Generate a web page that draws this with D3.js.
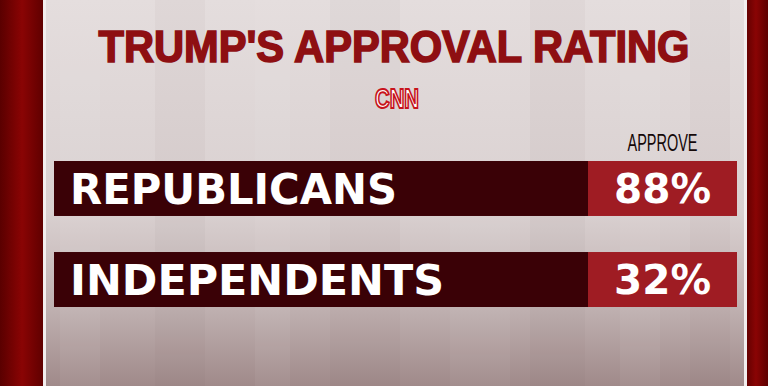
<!DOCTYPE html>
<html><head><meta charset="utf-8">
<script src="https://cdn.jsdelivr.net/npm/d3@7"></script>
<style>html,body{margin:0;padding:0;background:#6b0000;}svg{display:block;}</style>
</head><body>
<script>
const title = "TRUMP'S APPROVAL RATING";
const source = "CNN";
const columnLabel = "APPROVE";
const categories = ["REPUBLICANS", "INDEPENDENTS"];
const approve = [88, 32];

const W = 768, H = 386;
const svg = d3.select("body").append("svg").attr("width", W).attr("height", H);
const defs = svg.append("defs");

const og = defs.append("linearGradient").attr("id","outer").attr("x1",0).attr("x2",1).attr("y1",0).attr("y2",0);
og.append("stop").attr("offset","0%").attr("stop-color","#5a0000");
og.append("stop").attr("offset","50%").attr("stop-color","#8a0404");
og.append("stop").attr("offset","100%").attr("stop-color","#5e0000");
const pg = defs.append("linearGradient").attr("id","panel").attr("x1",0).attr("x2",0).attr("y1",0).attr("y2",1);
pg.append("stop").attr("offset","0%").attr("stop-color","#e4dddd");
pg.append("stop").attr("offset","55%").attr("stop-color","#d9d0d0");
pg.append("stop").attr("offset","80%").attr("stop-color","#bfb0b0");
pg.append("stop").attr("offset","100%").attr("stop-color","#a08a8a");

svg.append("rect").attr("x",0).attr("y",0).attr("width",44).attr("height",H).attr("fill","url(#outer)");
svg.append("rect").attr("x",744).attr("y",0).attr("width",24).attr("height",H).attr("fill","url(#outer)");
svg.append("rect").attr("x",43).attr("y",0).attr("width",704).attr("height",H).attr("fill","#f2eeee");
svg.append("rect").attr("x",46).attr("y",0).attr("width",698).attr("height",H).attr("fill","url(#panel)");

// subtle vertical stripes
const stripes = [[60,40,0.05],[155,50,-0.04],[255,35,0.05],[330,70,-0.03],[450,60,0.04],[530,55,-0.04],[620,40,0.05],[690,40,-0.03]];
svg.append("g").selectAll("rect").data(stripes).join("rect")
  .attr("x",d=>d[0]).attr("y",0).attr("width",d=>d[1]).attr("height",H)
  .attr("fill",d=>d[2]>0?"#ffffff":"#6a4a4a").attr("opacity",d=>Math.abs(d[2]));

// title
svg.append("text").attr("x",394).attr("y",62).attr("text-anchor","middle")
  .attr("font-family","'Liberation Sans Narrow','Liberation Sans',sans-serif").attr("font-weight","bold")
  .attr("font-size",44).attr("fill","#8e0f12").attr("stroke","#8e0f12").attr("stroke-width",1.6)
  .attr("textLength",591).attr("lengthAdjust","spacingAndGlyphs").text(title);

// CNN logo
svg.append("text").attr("x",397).attr("y",108).attr("text-anchor","middle")
  .attr("font-family","'Liberation Sans Narrow','Liberation Sans',sans-serif").attr("font-weight","bold")
  .attr("font-size",27).attr("fill","#ffffff").attr("stroke","#c8141c").attr("stroke-width",2)
  .attr("textLength",44).attr("lengthAdjust","spacingAndGlyphs").text(source);

// scales
const y = d3.scaleBand().domain(categories).range([161, 307]).paddingInner(0.396).paddingOuter(0);
const x = d3.scaleLinear().domain([0, 1]).range([54, 737]);
const split = 588;

const rows = svg.append("g").selectAll("g").data(categories.map((c,i)=>({c, v:approve[i]}))).join("g");
rows.append("rect").attr("x",x(0)).attr("y",d=>y(d.c)).attr("width",split-x(0)).attr("height",y.bandwidth())
  .attr("fill","#3a0106");
rows.append("rect").attr("x",split).attr("y",d=>y(d.c)).attr("width",x(1)-split).attr("height",y.bandwidth())
  .attr("fill","#9f1c23");
rows.append("text").attr("x",70).attr("y",d=>y(d.c)+43)
  .attr("font-family","'DejaVu Sans',sans-serif").attr("font-weight","bold").attr("font-size",42)
  .attr("fill","#ffffff")
  .attr("textLength",d=>d.c==="REPUBLICANS"?327:374).attr("lengthAdjust","spacingAndGlyphs")
  .text(d=>d.c);
rows.append("text").attr("x",(split+x(1))/2).attr("y",d=>y(d.c)+42).attr("text-anchor","middle")
  .attr("font-family","'DejaVu Sans',sans-serif").attr("font-weight","bold").attr("font-size",41)
  .attr("fill","#ffffff").attr("textLength",97).attr("lengthAdjust","spacingAndGlyphs")
  .text(d=>d.v+"%");

// column header
svg.append("text").attr("x",(split+x(1))/2).attr("y",151).attr("text-anchor","middle")
  .attr("font-family","'Liberation Sans Narrow','Liberation Sans',sans-serif")
  .attr("font-size",24).attr("fill","#140808").attr("textLength",70).attr("lengthAdjust","spacingAndGlyphs")
  .text(columnLabel);
</script>
</body></html>
